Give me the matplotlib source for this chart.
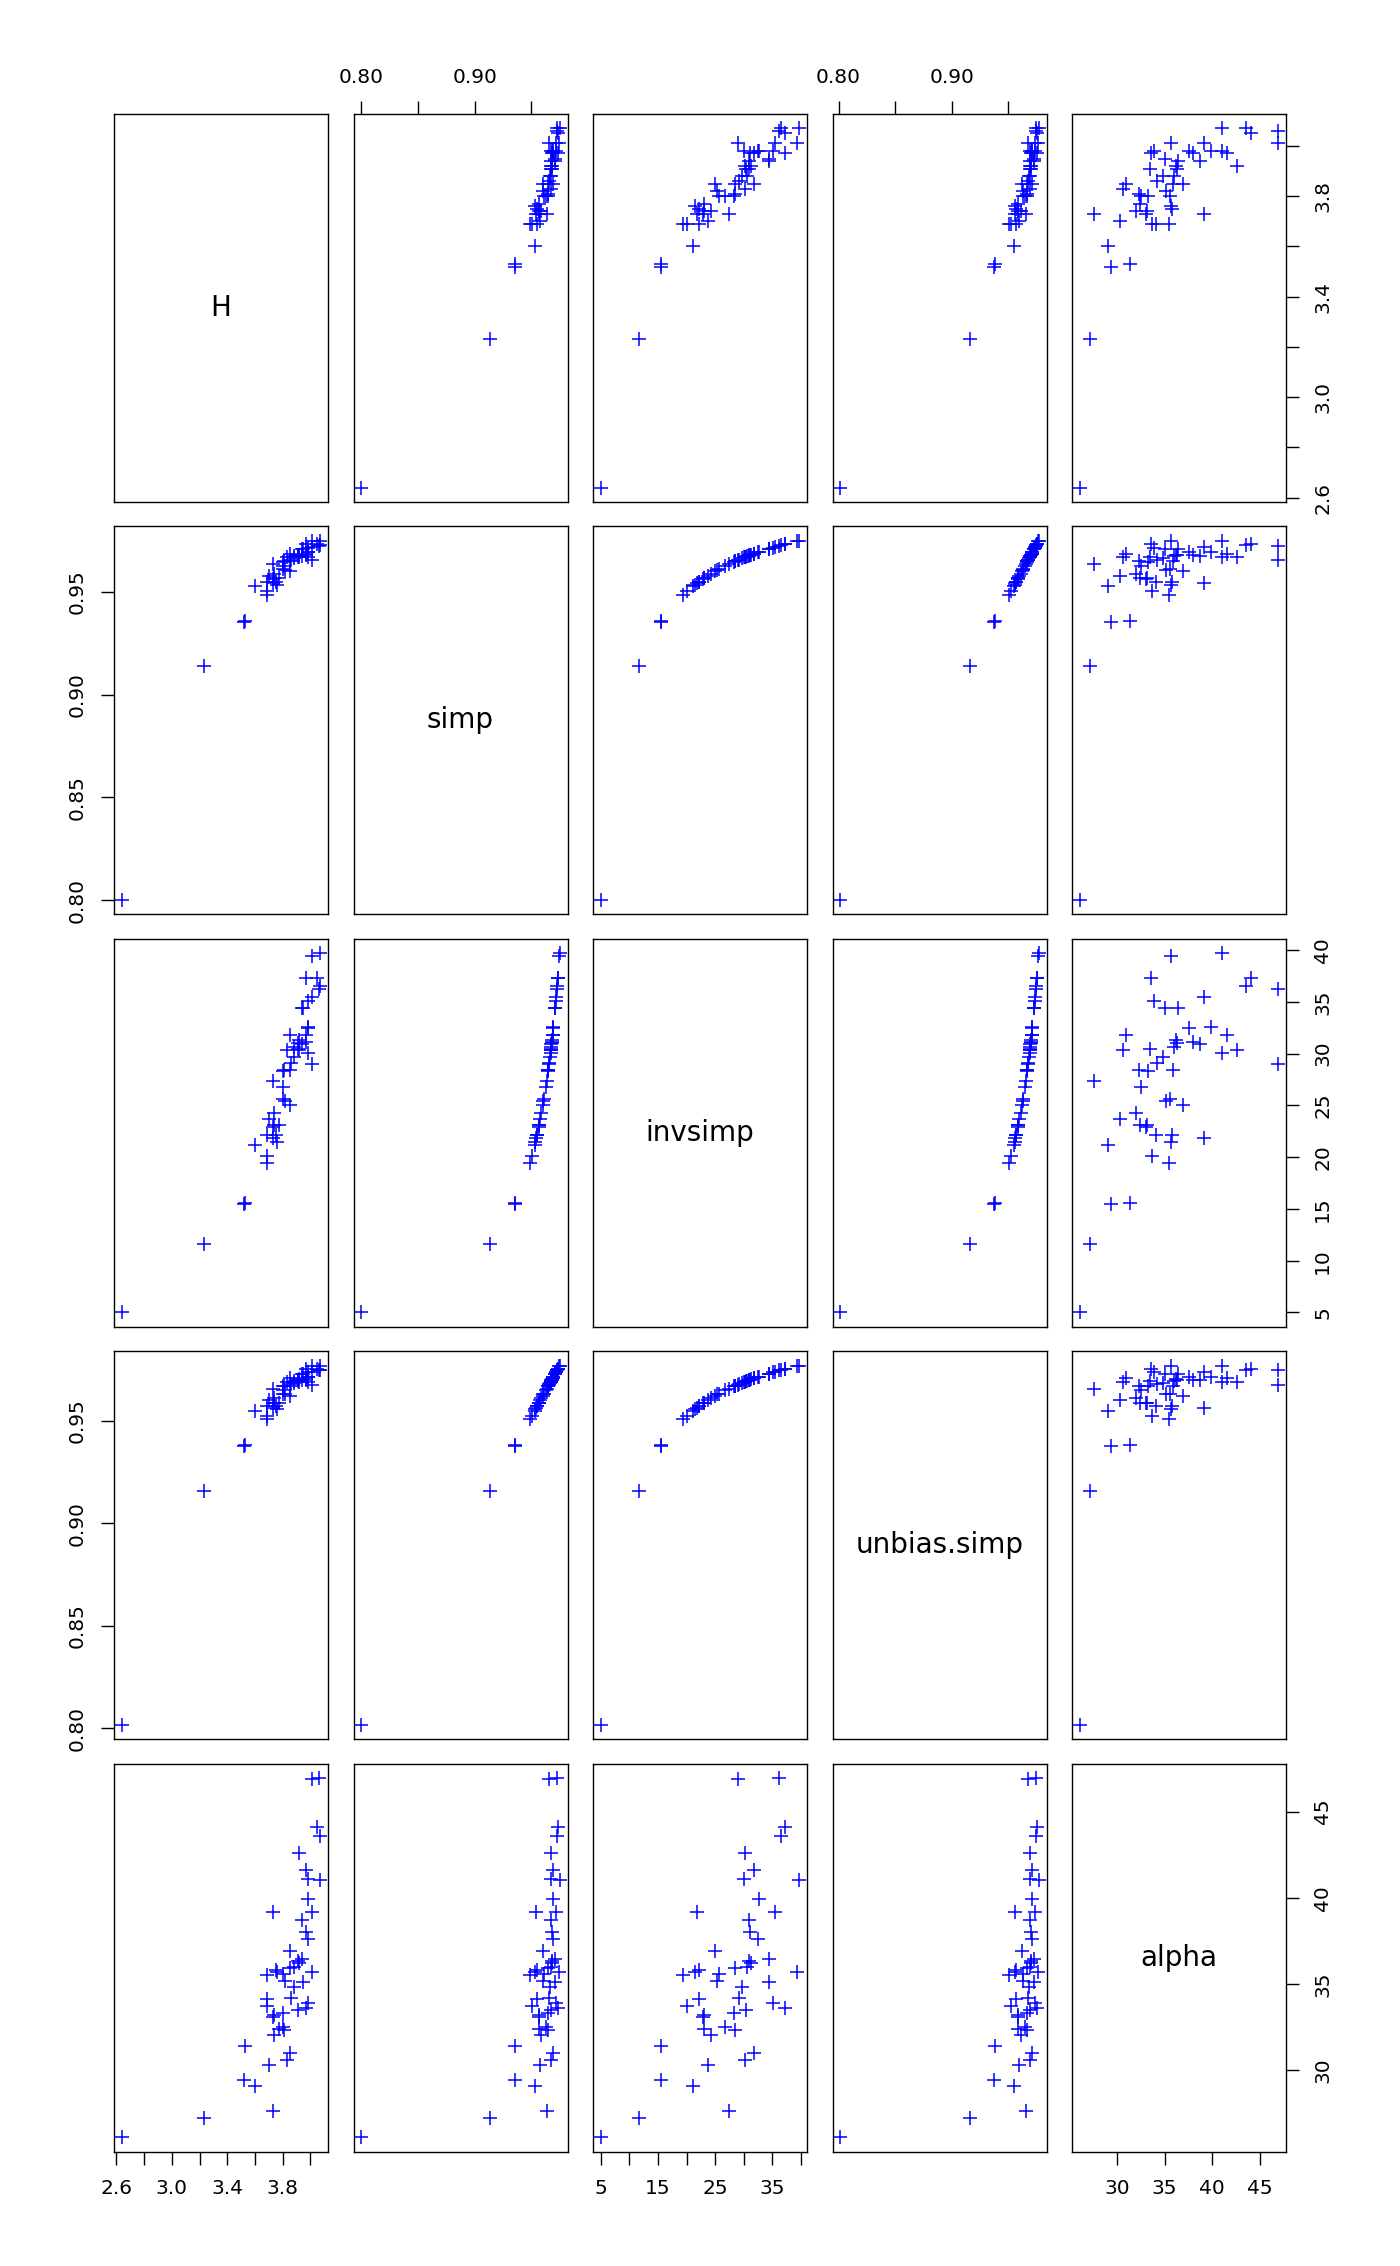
import numpy as np
import matplotlib.pyplot as plt

# diversity indices for 50 plots
H = [2.64, 3.23, 3.73, 3.60, 3.52, 3.70, 3.83, 3.85, 3.53, 3.74,
     3.81, 3.77, 3.80, 3.74, 3.73, 3.80, 3.91, 3.97, 3.69, 3.98,
     3.69, 3.86, 3.88, 3.95, 3.82, 3.69, 3.76, 3.75, 3.80, 4.01,
     3.85, 3.88, 3.91, 3.92, 3.94, 3.85, 3.98, 3.97, 3.94, 3.73,
     4.01, 3.98, 4.07, 3.98, 3.97, 3.92, 4.07, 4.05, 4.01, 4.06]

simp = [0.8000, 0.9138, 0.9635, 0.9528, 0.9355, 0.9578, 0.9670, 0.9686, 0.9359, 0.9588,
        0.9648, 0.9567, 0.9627, 0.9567, 0.9563, 0.9647, 0.9671, 0.9732, 0.9502, 0.9715,
        0.9548, 0.9656, 0.9663, 0.9709, 0.9606, 0.9485, 0.9535, 0.9548, 0.9609, 0.9746,
        0.9648, 0.9673, 0.9677, 0.9681, 0.9709, 0.9600, 0.9692, 0.9678, 0.9676, 0.9541,
        0.9718, 0.9693, 0.9748, 0.9668, 0.9686, 0.9670, 0.9726, 0.9732, 0.9655, 0.9724]

invsimp = [5.0, 11.6, 27.4, 21.2, 15.5, 23.7, 30.3, 31.8, 15.6, 24.3,
           28.4, 23.1, 26.8, 23.1, 22.9, 28.3, 30.4, 37.3, 20.1, 35.1,
           22.1, 29.1, 29.7, 34.4, 25.4, 19.4, 21.5, 22.1, 25.6, 39.4,
           28.4, 30.6, 31.0, 31.3, 34.4, 25.0, 32.5, 31.1, 30.9, 21.8,
           35.5, 32.6, 39.7, 30.1, 31.8, 30.3, 36.5, 37.3, 29.0, 36.2]

unbias_simp = [0.8017, 0.9159, 0.9656, 0.9549, 0.9377, 0.9599, 0.9690, 0.9706, 0.9381, 0.9609,
               0.9668, 0.9588, 0.9648, 0.9588, 0.9584, 0.9668, 0.9691, 0.9752, 0.9523, 0.9735,
               0.9569, 0.9676, 0.9683, 0.9729, 0.9627, 0.9506, 0.9556, 0.9569, 0.9630, 0.9766,
               0.9668, 0.9693, 0.9697, 0.9701, 0.9729, 0.9621, 0.9712, 0.9698, 0.9696, 0.9562,
               0.9738, 0.9713, 0.9768, 0.9688, 0.9706, 0.9690, 0.9746, 0.9752, 0.9675, 0.9744]

alpha = [26.1, 27.2, 27.6, 29.05, 29.4, 30.3, 30.6, 31.0, 31.4, 32.05,
         32.3, 32.4, 32.5, 33.2, 33.1, 33.3, 33.5, 33.6, 33.7, 33.9,
         34.1, 34.2, 34.8, 35.1, 35.15, 35.5, 35.7, 35.8, 35.6, 35.7,
         35.9, 36.0, 36.3, 36.2, 36.45, 36.9, 37.6, 38.0, 38.7, 39.2,
         39.2, 39.9, 41.0, 41.1, 41.6, 42.6, 43.6, 44.1, 46.9, 46.95]

names = ['H', 'simp', 'invsimp', 'unbias.simp', 'alpha']
data = [H, simp, invsimp, unbias_simp, alpha]

# tick positions, and labels for each side (R drops labels that would overlap)
ticks = [[2.6, 2.8, 3.0, 3.2, 3.4, 3.6, 3.8, 4.0],
         [0.80, 0.85, 0.90, 0.95],
         [5, 10, 15, 20, 25, 30, 35, 40],
         [0.80, 0.85, 0.90, 0.95],
         [30, 35, 40, 45]]
short_labels = [['2.6', '', '3.0', '', '3.4', '', '3.8', ''],
                ['0.80', '', '0.90', ''],
                ['5', '', '15', '', '25', '', '35', ''],
                ['0.80', '', '0.90', ''],
                ['30', '35', '40', '45']]
long_labels = [['2.6', '', '3.0', '', '3.4', '', '3.8', ''],
               ['0.80', '0.85', '0.90', '0.95'],
               ['5', '10', '15', '20', '25', '30', '35', '40'],
               ['0.80', '0.85', '0.90', '0.95'],
               ['30', '35', '40', '45']]

W, Hgt = 1400, 2266
fig = plt.figure(figsize=(W / 100, Hgt / 100), dpi=100)

left0, top0 = 114, 114
pw, ph = 214, 388
stepx, stepy = 239.5, 412.4

def lims(v):
    v = np.asarray(v)
    r = v.max() - v.min()
    return v.min() - 0.04 * r, v.max() + 0.04 * r

n = len(names)
for i in range(n):
    for j in range(n):
        l = left0 + j * stepx
        t = top0 + i * stepy
        ax = fig.add_axes([l / W, 1 - (t + ph) / Hgt, pw / W, ph / Hgt])
        for s in ax.spines.values():
            s.set_linewidth(1.0)
        ax.set_xlim(lims(data[j]))
        ax.set_ylim(lims(data[i]))
        ax.tick_params(which='both', direction='out', length=9.5, width=1.0,
                       labelsize=14.5, pad=10,
                       bottom=False, top=False, left=False, right=False,
                       labelbottom=False, labeltop=False,
                       labelleft=False, labelright=False)
        if i == j:
            ax.text(0.5, 0.5, names[i], transform=ax.transAxes,
                    ha='center', va='center', fontsize=20)
        else:
            ax.plot(data[j], data[i], '+', color='blue', ms=10, mew=1.1)

        # x axes: top of first row for even columns, bottom of last row for odd
        if i == 0 and j % 2 == 1:
            ax.set_xticks(ticks[j])
            ax.set_xticklabels(short_labels[j])
            ax.tick_params(axis='x', top=True, labeltop=True)
        if i == n - 1 and j % 2 == 0:
            ax.set_xticks(ticks[j])
            ax.set_xticklabels(short_labels[j])
            ax.tick_params(axis='x', bottom=True, labelbottom=True)
        # y axes: left of first column for odd rows, right of last column for even
        if j == 0 and i % 2 == 1:
            ax.set_yticks(ticks[i])
            ax.set_yticklabels(long_labels[i], rotation=90, va='center')
            ax.tick_params(axis='y', left=True, labelleft=True)
        if j == n - 1 and i % 2 == 0:
            ax.set_yticks(ticks[i])
            ax.set_yticklabels(long_labels[i], rotation=90, va='center')
            ax.tick_params(axis='y', right=True, labelright=True)

fig.savefig('out.png', dpi=100)
